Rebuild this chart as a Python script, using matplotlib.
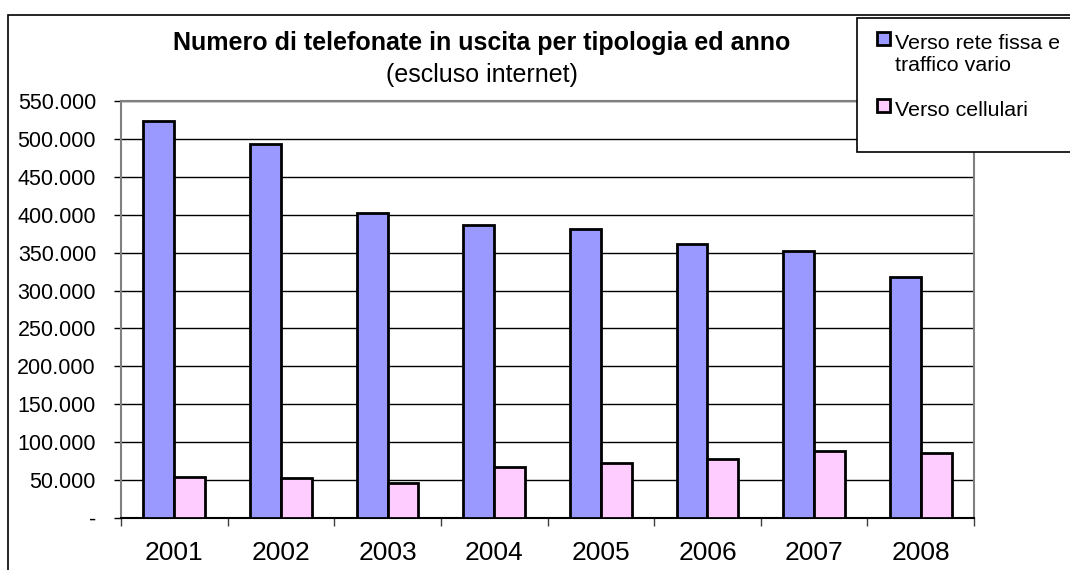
import matplotlib.pyplot as plt
from matplotlib.patches import Rectangle
from matplotlib.ticker import FuncFormatter, FixedLocator
import numpy as np

plt.rcParams['font.family'] = ['Liberation Sans', 'DejaVu Sans']

# data
anni = ["2001", "2002", "2003", "2004", "2005", "2006", "2007", "2008"]
rete_fissa = [523000, 493000, 402000, 387000, 381000, 361000, 352000, 318000]
cellulari = [54000, 53000, 46000, 67000, 72000, 78000, 88000, 86000]
serie = ["Verso rete fissa e\ntraffico vario", "Verso cellulari"]
colori = ["#9999FF", "#FFCCFF"]

fig = plt.figure(figsize=(10.7, 5.7), dpi=100)
ax = fig.add_axes([121 / 1070, 1 - 518 / 570, (974 - 121) / 1070, (518 - 101) / 570])

x = np.arange(len(anni))
w = 0.29
ax.bar(x - w / 2, rete_fissa, w, color=colori[0], edgecolor="black", linewidth=2, zorder=3)
ax.bar(x + w / 2, cellulari, w, color=colori[1], edgecolor="black", linewidth=2, zorder=3)

ax.set_xlim(-0.5, len(anni) - 0.5)
ax.set_ylim(0, 550000)
ax.set_yticks(np.arange(0, 550001, 50000))
ax.yaxis.set_major_formatter(FuncFormatter(
    lambda v, p: "-" if v == 0 else f"{int(v):,}".replace(",", ".")))
ax.grid(axis="y", color="black", linewidth=1, zorder=1)

ax.set_xticks(x)
ax.set_xticklabels(anni, fontsize=19)
ax.tick_params(axis="x", which="major", length=0, pad=16.5)
ax.xaxis.set_minor_locator(FixedLocator(np.arange(-0.5, len(anni), 1)))
ax.tick_params(axis="x", which="minor", length=6, width=1, color="#404040", direction="out")
ax.tick_params(axis="y", length=5, width=1, pad=13, labelsize=15.5, direction="out")

for s in ["left", "top", "right"]:
    ax.spines[s].set_color("#808080")
    ax.spines[s].set_linewidth(1.5)
ax.spines["bottom"].set_color("black")
ax.spines["bottom"].set_linewidth(1.5)

# outer chart border
fig.patches.append(Rectangle((8 / 1070, -0.05), 1.1, 1.05 - 15 / 570, transform=fig.transFigure,
                             fill=False, edgecolor="black", linewidth=1.2))

# title
fig.text(482 / 1070, 1 - 43 / 570, "Numero di telefonate in uscita per tipologia ed anno",
         ha="center", va="center", fontsize=18, fontweight="bold")
fig.text(482 / 1070, 1 - 75 / 570, "(escluso internet)", ha="center", va="center", fontsize=18)

# legend box
fig.patches.append(Rectangle((857 / 1070, 1 - 152 / 570), 0.3, (152 - 18) / 570,
                             transform=fig.transFigure, facecolor="white",
                             edgecolor="black", linewidth=1.2, zorder=5))
for lab, col, ytop in zip(serie, colori, [32, 99]):
    fig.patches.append(Rectangle((877 / 1070, 1 - (ytop + 13) / 570), 13 / 1070, 13 / 570,
                                 transform=fig.transFigure, facecolor=col,
                                 edgecolor="black", linewidth=2, zorder=6))
    fig.text(895 / 1070, 1 - (ytop + 2) / 570, lab, ha="left", va="top",
             fontsize=15.4, linespacing=1.2, zorder=6)

fig.savefig("out.png", dpi=100)
